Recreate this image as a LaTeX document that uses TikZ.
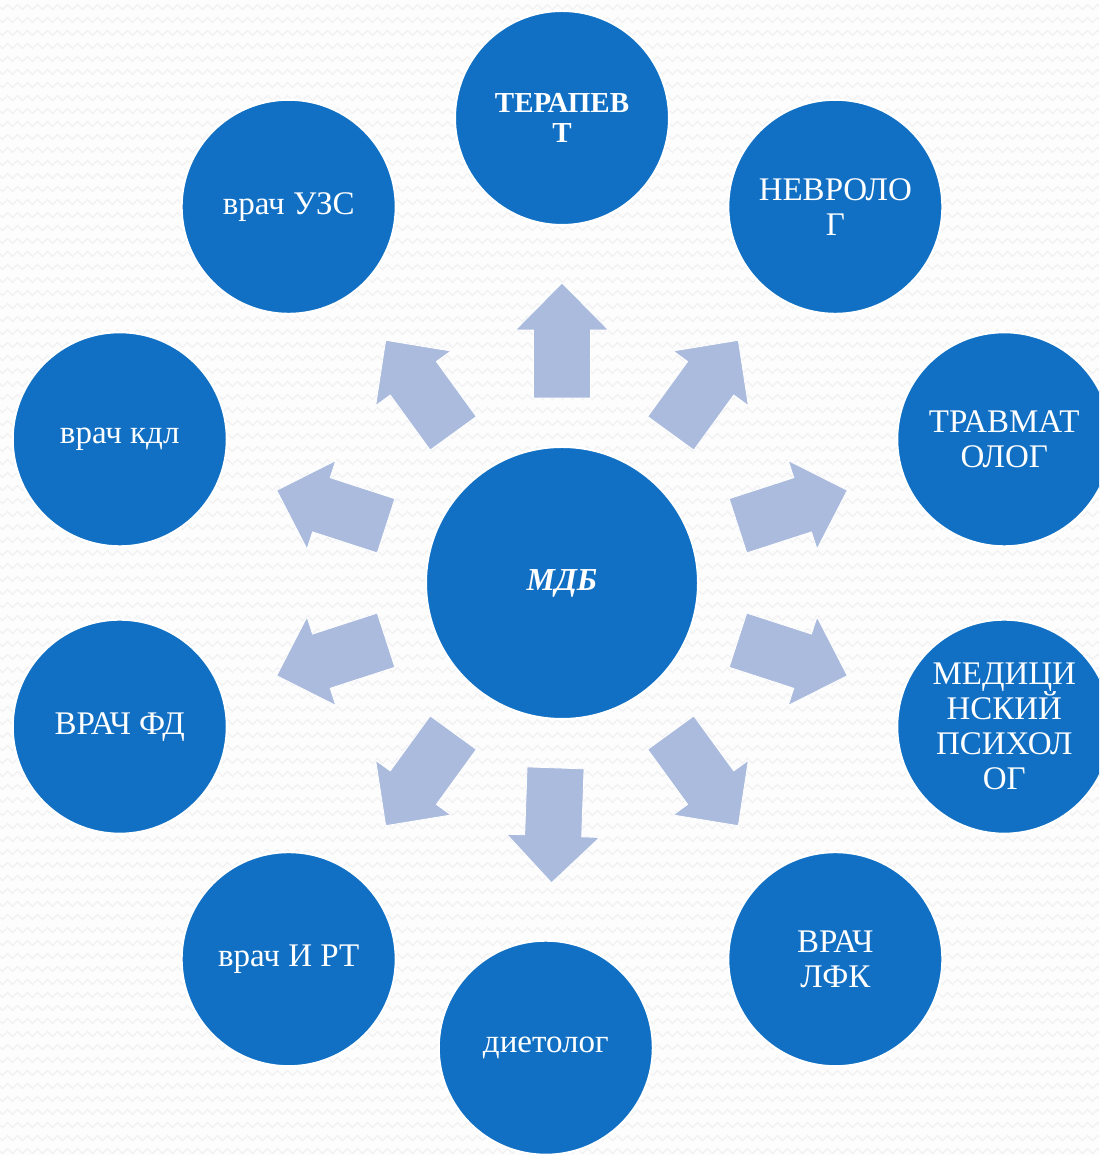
\documentclass[tikz,border=0pt]{standalone}
\usepackage{fontspec}
\setmainfont{Liberation Serif}
\usetikzlibrary{calc,decorations.pathmorphing}
\definecolor{disc}{RGB}{17,112,196}
\definecolor{pale}{RGB}{170,187,222}
\definecolor{paper}{RGB}{253,253,253}
\definecolor{zig}{RGB}{241,241,243}
\tikzset{
  member/.style={circle,draw=white,line width=2pt,fill=disc,text=white,
    minimum size=214pt,inner sep=0pt,align=center,
    font=\fontsize{33}{35}\selectfont},
  headmember/.style={member,font=\fontsize{29}{30}\selectfont\bfseries},
  hub/.style={member,minimum size=272pt,font=\fontsize{32}{35}\selectfont\bfseries\itshape},
  bgzig/.style={draw=zig,line width=1.2pt,decorate,
    decoration={zigzag,segment length=10pt,amplitude=2.5pt}},
  pics/fatarrow/.style={code={
    \fill[pale,draw=white,line width=0.8pt] (185,-28.5) -- (253,-28.5) -- (253,-46.5)
      -- (300,0) -- (253,46.5) -- (253,28.5) -- (185,28.5) -- cycle;
  }},
}

\begin{document}
\begin{tikzpicture}[x=1pt,y=1pt]
\clip (0,0) rectangle (1099,1155);
\fill[paper] (0,0) rectangle (1099,1155);
\foreach \yy in {4,17,...,1160}
  \draw[bgzig] (-5,\yy) -- (1105,\yy);

\coordinate (C) at (562,572);
% arrows from the hub
\foreach \ang in {90,54,18,-18,-54,-92,-126,-162,162,126}
  \pic[rotate=\ang] at (C) {fatarrow};

\node[hub] (mdb) at (C) {МДБ};
\node[headmember] (ter) at ($(C)+(90:465)$) {ТЕРАПЕВ\\Т};
\node[member] (nev) at ($(C)+(54:465)$) {НЕВРОЛО\\Г};
\node[member] (trav) at ($(C)+(18:465)$) {ТРАВМАТ\\ОЛОГ};
\node[member] (psy) at ($(C)+(-18:465)$) {МЕДИЦИ\\НСКИЙ\\ПСИХОЛ\\ОГ};
\node[member] (lfk) at ($(C)+(-54:465)$) {ВРАЧ\\ЛФК};
\node[member] (diet) at ($(C)+(-92:465)$) {диетолог};
\node[member] (irt) at ($(C)+(-126:465)$) {врач И РТ};
\node[member] (fd) at ($(C)+(-162:465)$) {ВРАЧ ФД};
\node[member] (kdl) at ($(C)+(162:465)$) {врач кдл};
\node[member] (uzs) at ($(C)+(126:465)$) {врач УЗС};
\end{tikzpicture}
\end{document}
